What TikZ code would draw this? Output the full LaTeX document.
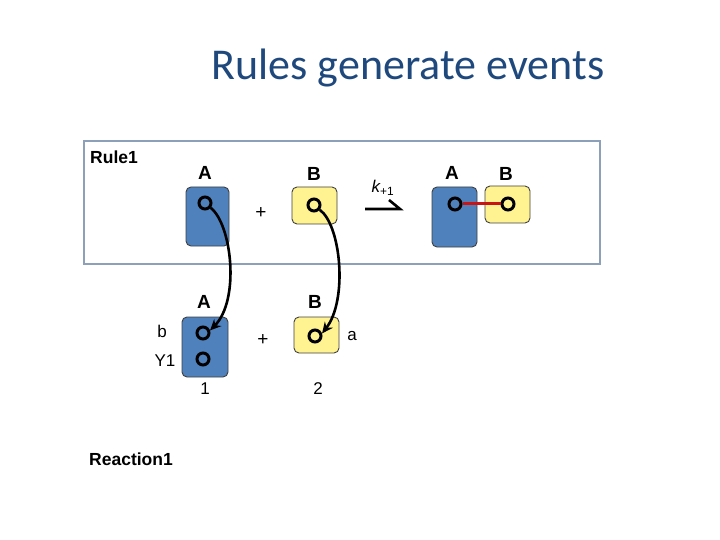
\documentclass[tikz,border=0pt]{standalone}
\usepackage{fontspec}
\setmainfont{Liberation Sans}
\newfontfamily\titlefont{Carlito}
\usetikzlibrary{arrows.meta}
\definecolor{titleblue}{RGB}{31,73,125}
\definecolor{molblue}{RGB}{79,129,189}
\definecolor{molyellow}{RGB}{255,242,145}
\definecolor{rulegray}{RGB}{140,160,185}
\definecolor{bondred}{RGB}{200,20,20}
\tikzset{
  bluebox/.style={draw=black!75, fill=molblue, rounded corners=5pt, line width=0.9pt},
  yellowbox/.style={draw=black!75, fill=molyellow, rounded corners=5pt, line width=0.9pt},
  site/.style={circle, draw=black, line width=3pt, minimum size=12pt, inner sep=0pt},
  mlabel/.style={font=\fontsize{19}{19}\selectfont\bfseries, inner sep=0pt},
  txt/.style={font=\fontsize{17}{17}\selectfont, inner sep=0pt},
  plustxt/.style={font=\fontsize{19}{19}\selectfont, inner sep=0pt},
  boldtxt/.style={font=\fontsize{17.5}{17.5}\selectfont\bfseries, inner sep=0pt, anchor=west},
  curvearrow/.style={line width=2.6pt, -{Stealth[length=11pt,width=10pt]}}
}
\begin{document}
\begin{tikzpicture}[x=1pt,y=-1pt]
\useasboundingbox (0,0) rectangle (720,540);
% title
\node[font=\titlefont\fontsize{44}{44}\selectfont, text=titleblue, inner sep=0pt] (title) at (408,68) {Rules generate events};
% rule box
\draw[rulegray, line width=1.2pt] (84,141) rectangle (600,264);
\node[boldtxt] (rule1) at (90,157) {Rule1};
% rule LHS
\draw[bluebox] (186,187) rectangle (229,246);
\node[mlabel] (la) at (205,173) {A};
\node[site] (ra) at (205,203) {};
\draw[yellowbox] (292,187) rectangle (337,224);
\node[mlabel] (lb) at (314,174) {B};
\node[site] (rb) at (314,205) {};
\node[plustxt] (plus1) at (261,213) {+};
% reaction arrow
\coordinate (arrs) at (365,209);
\coordinate (arre) at (400,209);
\coordinate (barb) at (389,200);
\draw[line width=2.6pt] (arrs) -- (arre) -- (barb);
\node[font=\fontsize{17}{17}\selectfont\itshape, inner sep=0pt] (k) at (383,188) {k\textsubscript{\upshape+1}};
% rule RHS
\draw[bluebox] (432,187) rectangle (477,247);
\node[mlabel] (la2) at (452,173) {A};
\draw[yellowbox] (485,186) rectangle (530,223);
\node[mlabel] (lb2) at (506,174) {B};
\node[site] (pa) at (455,204) {};
\node[site] (pb) at (508,204) {};
\draw[bondred, line width=3pt] (pa) -- (pb);
% reaction
\draw[bluebox] (182,317) rectangle (228,377);
\node[mlabel] (xa) at (204,302) {A};
\node[site] (xa1) at (203,333) {};
\node[site] (xa2) at (203,359) {};
\node[txt] (sb) at (162,331) {b};
\node[txt] (sy) at (165,361) {Y1};
\draw[yellowbox] (294,317) rectangle (339,353);
\node[mlabel] (xb) at (315,302) {B};
\node[site] (xb1) at (315,336) {};
\node[txt] (sa) at (352,336) {a};
\node[plustxt] (plus2) at (263,340) {+};
\node[txt] (n1) at (205,389) {1};
\node[txt] (n2) at (318,389) {2};
\node[boldtxt] (reac) at (89,459) {Reaction1};
% mapping curves
\draw[curvearrow] (ra.-40) .. controls (232,225) and (240,300) .. (xa1.20);
\draw[curvearrow] (rb.-40) .. controls (341,225) and (348,300) .. (xb1.20);
\end{tikzpicture}
\end{document}
